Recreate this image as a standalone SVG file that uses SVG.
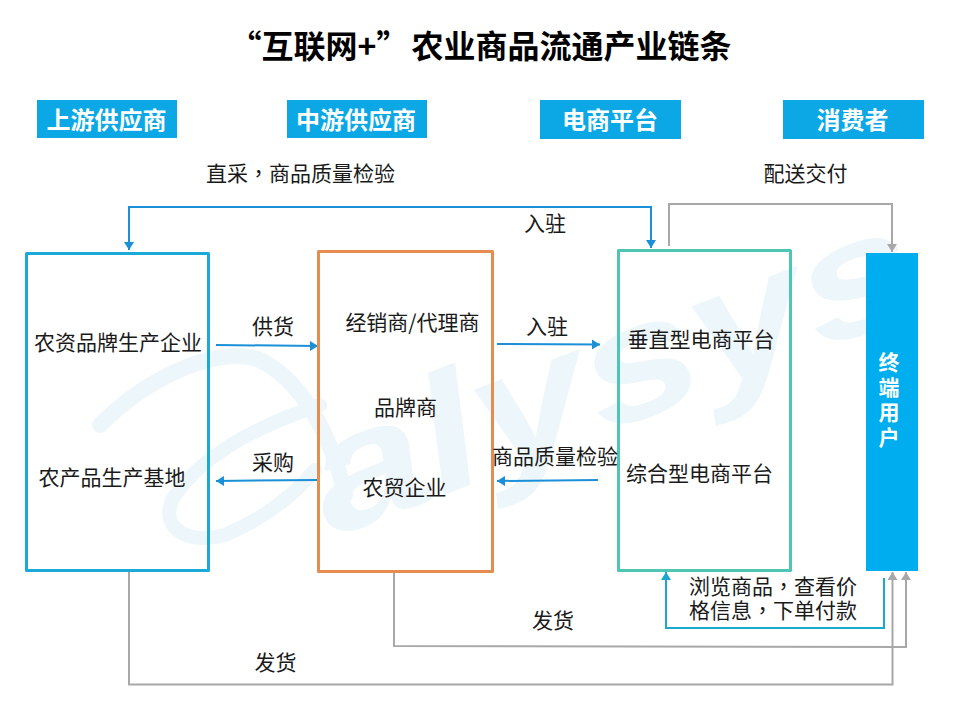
<svg xmlns="http://www.w3.org/2000/svg" width="960" height="720" viewBox="0 0 960 720">
<style>
text{font-family:"Noto Sans CJK SC","Liberation Sans",sans-serif;text-anchor:middle;dominant-baseline:central}
.l{font-size:21px;fill:#1a1a1a}
.h{font-size:24px;font-weight:700;fill:#fff}
.t{font-size:32px;font-weight:700;fill:#000}
.cm{font-family:"Noto Sans CJK TC",sans-serif}
.b{fill:none;stroke-width:3;stroke-linejoin:round}
.hd{fill:#0ca8e6}
.c{fill:none;stroke-width:2}
.blue{stroke:#1b90d8}
.gray{stroke:#a8a8a8}
.teal{stroke:#1ba8cc}
.wm{fill:none;stroke:#edf6fa;stroke-linecap:round}
</style>
<defs>
<marker id="ab" markerUnits="userSpaceOnUse" markerWidth="10" markerHeight="10" refX="8" refY="5" orient="auto"><path d="M0 0L8 5L0 10z" fill="#1b90d8"/></marker>
<marker id="ag" markerUnits="userSpaceOnUse" markerWidth="10" markerHeight="10" refX="8" refY="5" orient="auto"><path d="M0 0L8 5L0 10z" fill="#a8a8a8"/></marker>
<marker id="at" markerUnits="userSpaceOnUse" markerWidth="10" markerHeight="10" refX="8" refY="5" orient="auto"><path d="M0 0L8 5L0 10z" fill="#1ba8cc"/></marker>
</defs>
<rect width="960" height="720" fill="#fff"/>
<g id="watermark">
<path class="wm" stroke-width="16" d="M100 425C150 375 220 345 260 360C300 380 330 430 345 495"/>
<path class="wm" stroke-width="14" d="M320 405C260 425 200 455 172 500C160 530 190 545 225 535C260 520 290 500 315 470"/>
<text transform="translate(610 370) rotate(-21)" font-style="italic" font-weight="700" style="font-family:'Liberation Sans',sans-serif;font-size:165px;fill:#edf6fa" textLength="640" lengthAdjust="spacingAndGlyphs">alysys</text>
</g>

<text id="title" class="t" x="487" y="44"><tspan x="319">“互联网+”</tspan><tspan x="571.500">农业商品流通产业链条</tspan></text>

<g id="header-upstream"><rect class="hd" x="37" y="100" width="140" height="38"/><text class="h" x="106.500" y="118">上游供应商</text></g>
<g id="header-midstream"><rect class="hd" x="287" y="100" width="140" height="38"/><text class="h" x="356" y="118">中游供应商</text></g>
<g id="header-platform"><rect class="hd" x="540" y="100" width="141" height="39"/><text class="h" x="610" y="118.500">电商平台</text></g>
<g id="header-consumer"><rect class="hd" x="783" y="100" width="141" height="39"/><text class="h" x="852.500" y="118.500">消费者</text></g>

<g id="connectors">
<path class="c blue" marker-end="url(#ab)" d="M651 207H129V250"/>
<path class="c blue" marker-end="url(#ab)" d="M600 207H651V248"/>
<path class="c gray" marker-end="url(#ag)" d="M669 246V204H892V252"/>
<path class="c blue" marker-end="url(#ab)" d="M216 345L318 346"/>
<path class="c blue" marker-end="url(#ab)" d="M497 344L600 344.500"/>
<path class="c blue" marker-end="url(#ab)" d="M317 480L216 481"/>
<path class="c blue" marker-end="url(#ab)" d="M598 480L497 481"/>
<path class="c gray" marker-end="url(#ag)" d="M129 571V684.500H892.500V572"/>
<path class="c gray" marker-end="url(#ag)" d="M394 571V646L906 647V572"/>
<path class="c teal" marker-end="url(#at)" d="M884 578V628H666V572"/>
</g>

<g id="node-upstream"><rect class="b" x="26.500" y="253.500" width="182" height="317" stroke="#1ba9d8"/>
<text class="l" x="118" y="341">农资品牌生产企业</text><text class="l" x="112" y="476">农产品生产基地</text></g>
<g id="node-midstream"><rect class="b" x="318.500" y="251.500" width="174" height="320" stroke="#e58d4f"/>
<text class="l" x="412.500" y="321">经销商/代理商</text><text class="l" x="405.500" y="406">品牌商</text><text class="l" x="404.500" y="486">农贸企业</text></g>
<g id="node-platform"><rect class="b" x="618.500" y="250.500" width="172" height="320" stroke="#4ec5b5"/>
<text class="l" x="701" y="338">垂直型电商平台</text><text class="l" x="699.500" y="472">综合型电商平台</text></g>
<g id="node-user"><rect x="866" y="253" width="52" height="318" fill="#00aeef"/>
<text class="h" x="889" y="402" style="font-size:21px;writing-mode:vertical-rl;letter-spacing:4px">终端用户</text></g>

<g id="labels">
<text class="l" x="300.500" y="172">直采<tspan class="cm">，</tspan>商品质量检验</text>
<text class="l" x="805.500" y="172">配送交付</text>
<text class="l" x="545" y="222">入驻</text>
<text class="l" x="273" y="325">供货</text>
<text class="l" x="547" y="325">入驻</text>
<text class="l" x="273" y="461">采购</text>
<text class="l" x="555" y="455">商品质量检验</text>
<text class="l" y="585"><tspan x="773">浏览商品<tspan class="cm">，</tspan>查看价</tspan><tspan x="773" dy="24">格信息<tspan class="cm">，</tspan>下单付款</tspan></text>
<text class="l" x="553" y="619">发货</text>
<text class="l" x="275.500" y="661">发货</text>
</g>
</svg>
